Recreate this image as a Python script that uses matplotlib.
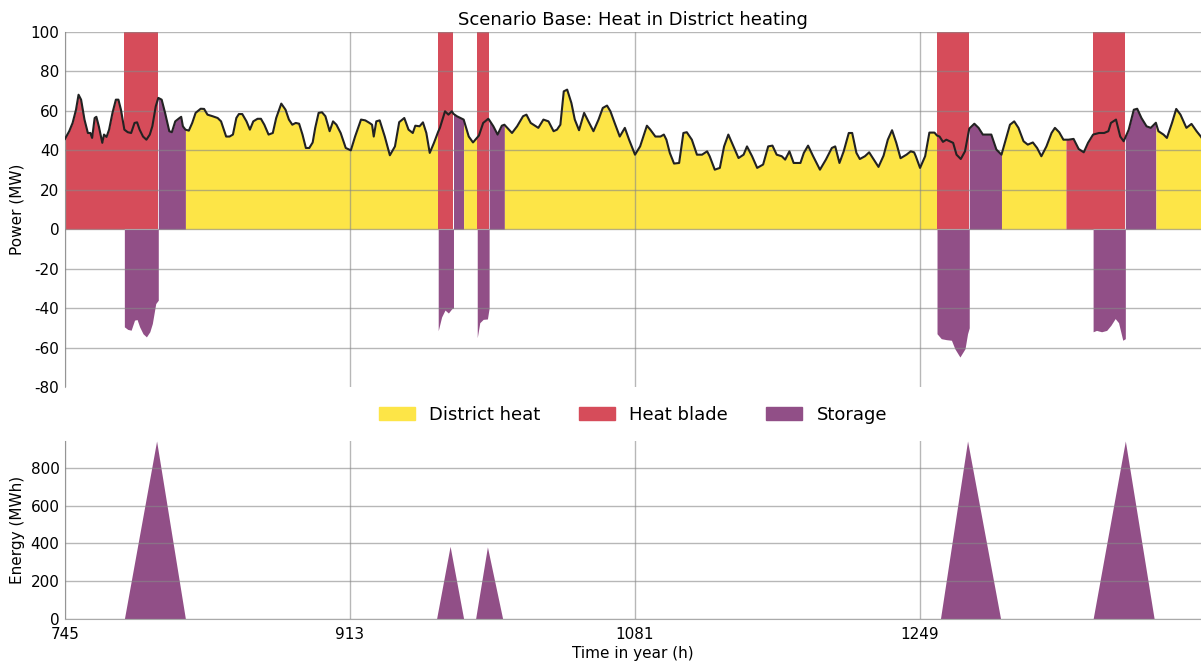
import matplotlib
matplotlib.use("Agg")
import matplotlib.pyplot as plt
from matplotlib.patches import Patch
import numpy as np

plt.rcParams['axes.unicode_minus'] = False
plt.rcParams['font.family'] = ['DejaVu Sans']

YELLOW = '#FDE547'
RED = '#D64C5A'
PURPLE = '#914F87'

# heat demand (MW)
hours = [745, 747.5, 749.5, 751.5, 753, 754.5, 756.5, 758.5, 760, 761, 762.5, 763.5, 765, 767, 768, 769.5,
         771, 773, 775, 776.5, 778, 780, 782, 784, 786, 787.5, 789, 791, 793, 795, 796.5, 798.5, 800,
         802, 804, 806.5, 808, 810, 812.5, 813.5, 814.5, 816, 818, 820, 822, 825, 827, 829, 832, 835,
         837, 840, 842, 844, 846, 847.5, 849.5, 852, 854, 856, 858.5, 860.5, 862.5, 865, 867.5, 869.5,
         872.5, 875, 877, 879, 881, 883, 885, 887, 889, 891, 892.5, 894.5, 896.5, 898.5, 901, 903, 905,
         907.5, 910.5, 913.5, 916, 919.5, 922, 924.5, 926, 927, 928.5, 930.5, 933.5, 936.5, 939.5, 942,
         945, 947.5, 950, 951.5, 954, 956, 958, 960, 962.5, 965, 966, 969, 971, 973, 974, 976, 980, 983,
         985.5, 988, 989, 991.5, 994.5, 995, 997.5, 1000, 1002.5, 1004, 1008.5, 1011.5, 1015, 1017,
         1019.5, 1022, 1024, 1027, 1030, 1033, 1035, 1037, 1039, 1041, 1043.5, 1045.5, 1048, 1051,
         1053.5, 1056.5, 1059.5, 1062, 1064.5, 1066.5, 1069, 1072, 1075, 1077.5, 1081, 1084, 1088, 1090,
         1093, 1096, 1098, 1099.5, 1101.5, 1104, 1107, 1109.5, 1111.5, 1114.5, 1117.5, 1120.5, 1123.5,
         1125, 1128, 1131, 1133.5, 1136, 1139, 1142, 1145, 1147, 1150, 1153, 1156.5, 1159.5, 1162,
         1164.5, 1167.5, 1169.5, 1172, 1174.5, 1178.5, 1180.5, 1183, 1186, 1190, 1193.5, 1197, 1199,
         1201.5, 1204, 1207, 1209, 1211.5, 1213.5, 1216.5, 1219, 1221.5, 1224.5, 1227.5, 1230, 1232.5,
         1235, 1237.5, 1241, 1243.5, 1245.5, 1246.5, 1249, 1252, 1254.5, 1257.5, 1259, 1260.5, 1262.5,
         1264.5, 1266.5, 1268.5, 1270.5, 1273, 1275.5, 1278, 1281, 1283.5, 1286, 1291, 1294, 1297,
         1299.5, 1302, 1304.5, 1307, 1310, 1312.5, 1315.5, 1318, 1320.5, 1323.5, 1326.5, 1328.5, 1331,
         1333.5, 1335, 1336.5, 1339.5, 1342.5, 1345.5, 1348, 1351, 1354.5, 1357.5, 1360, 1361.5, 1364.5,
         1367, 1369, 1370, 1372, 1375, 1377, 1379.5, 1382.5, 1385, 1388, 1389.5, 1392.5, 1394.5, 1397.5,
         1400, 1402.5, 1406, 1409, 1412, 1414.5, 1416]
demand = [45.8, 49.7, 53.9, 60.6, 68.2, 65.7, 55.6, 48.8, 48.8, 46.3, 56.4, 57, 52, 43.8, 48, 46.8,
          50.5, 59, 65.7, 65.7, 60.6, 50.5, 49.2, 48.8, 53.9, 54.2, 50.5, 47, 45.4, 48, 52.2, 62.3, 66.6,
          65.7, 59, 49.7, 49.2, 54.7, 56.4, 57, 52.2, 50.5, 50, 53.9, 59, 61.1, 61, 58.1, 57.3, 56.4,
          54.7, 47, 47, 48, 56.4, 58.4, 58.4, 54.7, 50.5, 54.7, 56, 56, 53, 48, 48.8, 56.4,
          63.7, 60.6, 55.6, 53, 53.9, 53.5, 48, 41.2, 41.2, 44, 51.4, 59, 59.3, 57.3, 49.7, 54.7, 53,
          48.8, 41.2, 40, 47, 55.6, 55.2, 53.9, 53, 47, 54.7, 55.2, 47, 37.5, 42, 54.3,
          56.4, 50.5, 48.8, 52.5, 52.2, 54.2, 48.8, 38.7, 43.8, 49.5, 51.4, 59.8, 58.1, 59.8, 58.5, 57.3, 55.6, 47,
          44, 46.5, 47.5, 53.9, 56, 55.5, 52.2, 48, 52.5, 53, 48.8, 52.2, 57.3, 58.1,
          53.9, 52.5, 51.4, 55.6, 54.7, 49.7, 50.5, 53, 69.9, 70.8, 64, 55.6, 50.2, 59,
          54.7, 49.7, 55.6, 61.5, 62.7, 59.8, 53.9, 47, 51.4, 45.4, 37.8, 42, 52.5, 50.5,
          47, 47, 48, 45.4, 38.7, 33.3, 33.6, 48.8, 49.2, 45.4, 37.8, 37.8, 39.5,
          37, 30.2, 31.1, 42, 48, 42, 36.1, 37.8, 42, 37, 31.1, 32.8, 42, 42.4,
          37.8, 37, 35.3, 39.5, 33.6, 33.6, 38.7, 42.4, 37, 30.2, 35.3, 41.2, 42,
          33.6, 39.5, 48.8, 48.8, 38.7, 35.6, 37, 39, 35.6, 31.6, 37.3, 45.4, 50.2,
          43.8, 36, 37.8, 39.5, 39, 37, 31.1, 37, 49, 49, 47.5, 47, 44.3,
          45.4, 44.6, 43.8, 37.8, 35.6, 39.5, 51, 53.5, 51.4, 48, 48, 40.4, 37.8,
          45.4, 53, 54.7, 51.4, 44.6, 42.9, 44, 41.2, 37, 42, 48.8, 51.4, 49.2,
          45.4, 45.4, 45.4, 45.8, 40.7, 39, 43.8, 48, 48.8, 48.8, 49.7, 53.9, 55.6,
          47, 44.6, 46.5, 50.5, 60.6, 61.1, 56.4, 52.2, 51.4, 54, 49.7, 48, 46.3, 53.9,
          61, 58.1, 51.4, 53.4, 49.7, 47, 45]

# which source covers the demand in each period
seg_start = [745, 780, 800, 816, 965, 974, 980, 988, 995, 1004, 1259, 1278, 1297, 1335, 1351, 1370, 1388]
seg_end = [780, 800, 816, 965, 974, 980, 988, 995, 1004, 1259, 1278, 1297, 1335, 1351, 1370, 1388, 1416]
seg_source = ['blade', 'charge', 'storage', 'district', 'charge', 'storage', 'district', 'charge',
              'storage', 'district', 'charge', 'storage', 'district', 'blade', 'charge', 'storage',
              'district']
blade_full = 100  # heat blade output while charging the storage

# storage charging (negative power, MW)
charge_hours = [780, 780, 782, 784, 786, 787.5, 789, 791, 793, 795, 796.5, 798.5, 800, 800,
                965, 965, 967, 969, 971, 973, 974, 974,
                988, 988, 989.5, 991.5, 994, 995, 995,
                1259, 1259, 1261.5, 1264.5, 1267.5, 1269.5, 1272.5, 1275.5, 1277, 1278, 1278,
                1351, 1351, 1353, 1356, 1359, 1361.5, 1364, 1366, 1368.5, 1370, 1370]
charge_values = [0, -49.5, -50.8, -51.2, -46.1, -45.8, -49.5, -53, -54.6, -52, -47.8, -37.7, -36, 0,
                 0, -51.5, -44.5, -41, -42.5, -40.3, -40, 0,
                 0, -55, -47.4, -45.7, -45.5, -40, 0,
                 0, -53, -55.5, -56, -56.3, -60.6, -64.8, -60.6, -53, -50, 0,
                 0, -52, -51.3, -52, -51.3, -48.7, -45.3, -47.4, -56.3, -55.5, 0]

# storage energy content (MWh)
energy_hours = [745, 780, 799, 816, 964, 972, 980, 987, 994, 1003, 1261, 1277, 1296.5, 1351, 1370, 1387, 1416]
energy = [0, 0, 943, 0, 0, 385, 0, 0, 382, 0, 0, 943, 0, 0, 943, 0, 0]

x_ticks = [745, 913, 1081, 1249]
colors = {'district': YELLOW, 'blade': RED, 'storage': PURPLE}

hours = np.array(hours)
demand = np.array(demand)

fig = plt.figure(figsize=(12.01, 6.63), dpi=100)
ax1 = fig.add_axes([0.0541, 0.4163, 0.9459, 0.5354])
ax2 = fig.add_axes([0.0541, 0.0664, 0.9459, 0.2685])

for s, e, src in zip(seg_start, seg_end, seg_source):
    if src == 'charge':
        ax1.fill_between([s, e], 0, blade_full, color=RED, lw=0)
    else:
        m = (hours >= s) & (hours <= e)
        ax1.fill_between(hours[m], 0, demand[m], color=colors[src], lw=0)
ax1.fill_between(charge_hours, charge_values, 0, color=PURPLE, lw=0)
ax1.plot(hours, demand, color='#222222', lw=1.5, zorder=3)

ax2.fill_between(energy_hours, 0, energy, color=PURPLE, lw=0)

for ax in (ax1, ax2):
    ax.set_xlim(745, 1414.6)
    ax.set_xticks(x_ticks)
    ax.set_axisbelow(False)
    ax.grid(True, color='#888888', alpha=0.6, lw=1)
    ax.tick_params(length=0, labelsize=11, pad=4)
    for side in ('top', 'right', 'bottom'):
        ax.spines[side].set_visible(False)
    ax.spines['left'].set_color('#aaaaaa')

ax1.set_ylim(-80, 100)
ax1.set_yticks(range(-80, 101, 20))
ax1.tick_params(labelbottom=False)
ax1.yaxis.get_gridlines()[0].set_visible(False)
ax1.set_ylabel('Power (MW)', fontsize=11)
ax1.set_title('Scenario Base: Heat in District heating', fontsize=13, pad=5)

ax2.set_ylim(0, 943)
ax2.set_yticks([0, 200, 400, 600, 800])
ax2.tick_params(axis='x', pad=6)
ax2.spines['bottom'].set_visible(True)
ax2.spines['bottom'].set_color('#aaaaaa')
ax2.set_ylabel('Energy (MWh)', fontsize=11)
ax2.set_xlabel('Time in year (h)', fontsize=11, labelpad=3)

handles = [Patch(color=YELLOW, label='District heat'),
           Patch(color=RED, label='Heat blade'),
           Patch(color=PURPLE, label='Storage')]
fig.legend(handles=handles, loc='center', bbox_to_anchor=(0.527, 0.374), ncol=3,
           frameon=False, fontsize=13, handlelength=2.0, handletextpad=0.8, columnspacing=2.1)

fig.savefig('out.png', dpi=100)
